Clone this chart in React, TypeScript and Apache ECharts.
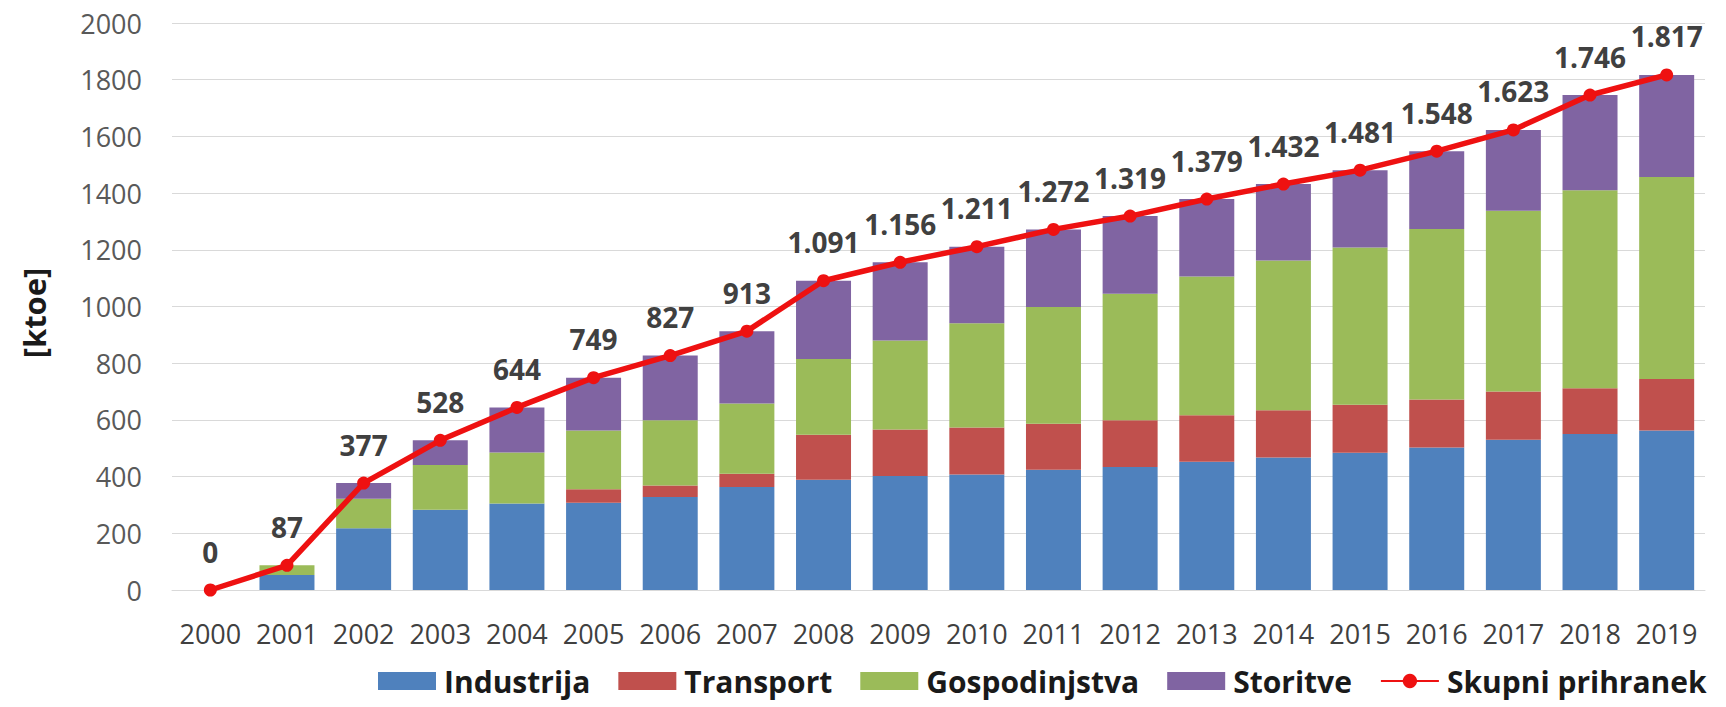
import { useEffect, useRef } from "react";
import * as echarts from "echarts";

const years = [
  "2000", "2001", "2002", "2003", "2004", "2005", "2006", "2007", "2008", "2009",
  "2010", "2011", "2012", "2013", "2014", "2015", "2016", "2017", "2018", "2019",
];

const industrija = [0, 53, 218, 283, 305, 308, 328, 363, 389, 402, 407, 424, 434, 452, 467, 484, 503, 530, 550, 563];
const transport = [0, 0, 0, 0, 0, 47, 41, 47, 159, 164, 166, 162, 165, 164, 167, 169, 169, 170, 162, 181];
const gospodinjstva = [0, 34, 104, 158, 180, 208, 230, 248, 267, 314, 368, 412, 446, 490, 528, 555, 601, 638, 698, 713];
const storitve = [0, 0, 55, 87, 159, 186, 228, 255, 276, 276, 270, 274, 274, 273, 270, 273, 275, 285, 336, 360];
const skupniPrihranek = [0, 87, 377, 528, 644, 749, 827, 913, 1091, 1156, 1211, 1272, 1319, 1379, 1432, 1481, 1548, 1623, 1746, 1817];

const FONT = "'Open Sans', 'Liberation Sans', sans-serif";

// 1.091 style – dot as thousands separator
const fmt = (v: number) => {
  if (v < 1000) return String(v);
  const t = Math.floor(v / 1000);
  const r = String(v % 1000).padStart(3, "0");
  return t + "." + r;
};

const SavingsChart = () => {
  const chartRef = useRef<HTMLDivElement>(null);

  useEffect(() => {
    const chart = echarts.init(chartRef.current, null, { renderer: "svg" });

    const barSeries = (name: string, data: number[], color: string) => ({
      name,
      type: "bar",
      stack: "total",
      barWidth: 55,
      data,
      itemStyle: { color },
    });

    const option = {
      animation: false,
      textStyle: { fontFamily: FONT },
      grid: { left: 172, right: 21, top: 23, bottom: 117 },
      legend: {
        left: 378,
        top: 664,
        padding: 0,
        itemWidth: 58,
        itemHeight: 18,
        itemGap: 28,
        textStyle: {
          fontFamily: FONT,
          fontSize: 30,
          lineHeight: 34,
          fontWeight: "bold",
          color: "#1a1a1a",
          padding: [0, 0, 0, 3],
        },
        data: [
          { name: "Industrija", icon: "rect" },
          { name: "Transport", icon: "rect" },
          { name: "Gospodinjstva", icon: "rect" },
          { name: "Storitve", icon: "rect" },
          { name: "Skupni prihranek" },
        ],
      },
      graphic: [
        {
          type: "text",
          x: 34,
          y: 313,
          rotation: Math.PI / 2,
          style: {
            text: "[ktoe]",
            font: "bold 31px 'Open Sans'",
            fill: "#1a1a1a",
            align: "center",
            verticalAlign: "middle",
          },
        },
      ],
      xAxis: {
        type: "category",
        data: years,
        axisLine: { lineStyle: { color: "#d9d9d9", width: 1 } },
        axisTick: { show: false },
        axisLabel: { interval: 0, fontSize: 27, color: "#404040", margin: 30, fontFamily: FONT },
      },
      yAxis: {
        type: "value",
        min: 0,
        max: 2000,
        interval: 200,
        axisLine: { show: false },
        axisTick: { show: false },
        splitLine: { lineStyle: { color: "#d9d9d9", width: 1 } },
        axisLabel: {
          fontSize: 27,
          color: "#595959",
          margin: 30,
          fontFamily: FONT,
          formatter: (v: number) => String(v),
        },
      },
      series: [
        barSeries("Industrija", industrija, "#4f81bd"),
        barSeries("Transport", transport, "#c0504d"),
        barSeries("Gospodinjstva", gospodinjstva, "#9bbb59"),
        barSeries("Storitve", storitve, "#8064a2"),
        {
          name: "Skupni prihranek",
          type: "line",
          data: skupniPrihranek,
          z: 5,
          symbol: "circle",
          symbolSize: 13,
          lineStyle: { color: "#ee1111", width: 5.5 },
          itemStyle: { color: "#ee1111" },
          label: {
            show: true,
            position: "top",
            distance: 18,
            fontSize: 28,
            fontWeight: "bold",
            color: "#404040",
            fontFamily: FONT,
            formatter: (p: any) => fmt(p.value),
          },
        },
      ],
    };
    chart.setOption(option);

    return () => {
      chart.dispose();
    };
  }, []);

  return (
    <div
      ref={chartRef}
      style={{ position: "fixed", left: 0, top: 0, width: 1726, height: 707, background: "#fff" }}
    />
  );
};

export default function App() {
  return <SavingsChart />;
}
